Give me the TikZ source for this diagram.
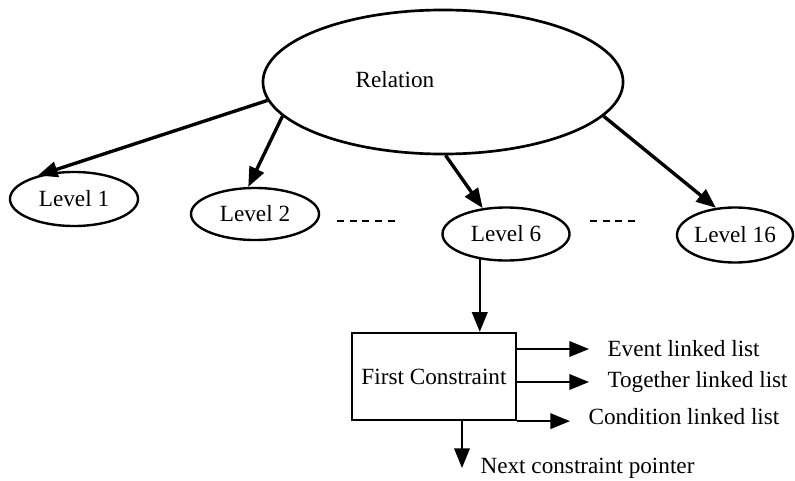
\documentclass[tikz,border=0pt]{standalone}
\usepackage{fontspec}
\setmainfont{Liberation Serif}
\usetikzlibrary{arrows.meta,shapes.geometric}

\tikzset{
  level/.style={draw, ellipse, line width=1.7pt, inner sep=0pt, minimum width=3.2cm, minimum height=1.35cm},
  big/.style={-{Triangle[length=14pt,width=11pt]}, line width=2.4pt},
  small/.style={-{Triangle[length=14pt,width=11pt]}, line width=1.6pt},
  listtext/.style={anchor=west, inner xsep=13pt, inner ysep=0pt},
  gap/.style={line width=1pt, dash pattern=on 5pt off 4pt}
}

\begin{document}
\begin{tikzpicture}[x=0.025cm, y=-0.025cm, font=\fontsize{16.5}{19}\selectfont]
            \useasboundingbox (0, 0) rectangle (795, 480);

            \node[draw, ellipse, line width=1.9pt, minimum width=9cm, minimum height=3.6cm] (rel) at (443, 82) {};
            \node (reltext) at (395, 80) {Relation};

            \node[level] (l1) at (74, 199) {Level 1};
            \node[level, minimum height=1.3cm] (l2) at (255, 214) {Level 2};
            \node[level, minimum width=3.175cm, minimum height=1.325cm] (l6) at (506, 234) {Level 6};
            \node[level, minimum width=2.9cm, minimum height=1.375cm] (l16) at (735, 235) {Level 16};

            \draw[gap] (337, 221) -- (398, 221);
            \draw[gap] (590, 221) -- (638, 221);

            \node[draw, line width=1.6pt, inner sep=0pt, minimum width=4.1cm, minimum height=2.175cm] (fc) at (434, 376.5) {First Constraint};

            \node[listtext] (ev) at (589, 349) {Event linked list};
            \node[listtext] (tg) at (589, 382) {Together linked list};
            \node[listtext] (cd) at (570, 417) {Condition linked list};
            \node[listtext] (nx) at (462, 468) {Next constraint pointer};

            \draw[big] (rel.186) -- (l1.147);
            \draw[big] (rel.192) -- (l2.104);
            \draw[big] (rel.272) -- (l6.132);
            \draw[big] (rel.348) -- (l16.125);

            \draw[small] (l6.224) -- (l6.224 |- fc.north);
            \draw[small] (fc.east |- ev.west) -- (ev.west);
            \draw[small] (fc.east |- tg.west) -- (tg.west);
            \draw[small] (fc.south east) -- (fc.south east -| cd.west);
            \draw[small] (fc.south -| nx.west) -- (nx.west);
\end{tikzpicture}
\end{document}
